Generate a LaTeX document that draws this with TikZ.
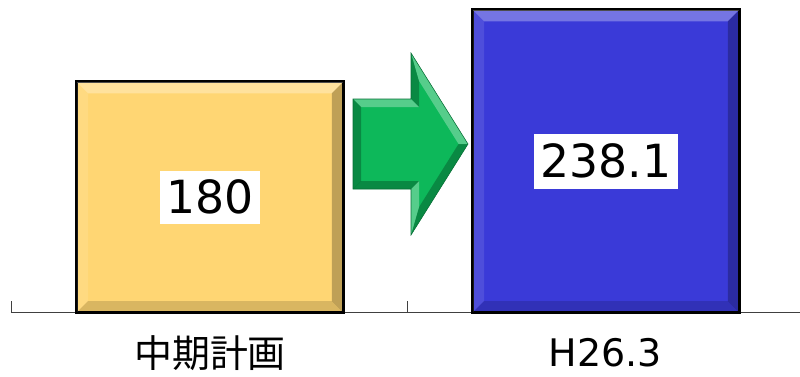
\documentclass[tikz,border=0pt]{standalone}
\usepackage{fontspec}
\newfontfamily\jpfont{Noto Sans CJK JP}
\newfontfamily\numfont{DejaVu Sans}
\definecolor{barplan}{HTML}{FFD673}
\definecolor{baractual}{HTML}{3A3AD8}
\definecolor{arrowgreen}{HTML}{0DB85A}
\begin{document}
\begin{tikzpicture}[font=\jpfont,
	bar/.style={rectangle,draw=black,line width=1.2pt,inner sep=0pt,minimum width=6.65cm},
	value/.style={fill=white,inner sep=0pt,font=\numfont\fontsize{32.5}{36}\selectfont},
	category/.style={inner sep=0pt,font=\jpfont\fontsize{27}{30}\selectfont},
	axis/.style={draw=black!75,line width=0.6pt},
	lite/.style={fill=white,fill opacity=0.3},
	dark/.style={fill=black,fill opacity=0.25}]

  \useasboundingbox (0,0) rectangle (20,9.4);

  % axis
  \coordinate (ax0) at (0.275,1.6);
  \coordinate (ax1) at (10.175,1.6);
  \coordinate (ax2) at (20,1.6);
  \draw[axis] (ax0) -- (ax2);
  \draw[axis] (ax0) -- ++(0,0.275);
  \draw[axis] (ax1) -- ++(0,0.275);

  \node [bar, fill=barplan, minimum height=5.75cm, anchor=south] (plan) at (5.25,1.575) {};
  \node [bar, fill=baractual, minimum height=7.55cm, anchor=south] (actual) at (15.15,1.575) {};

  % bevel of the bars
  \foreach \b in {plan,actual}{
	  \fill[lite] (\b.north west) -- (\b.north east) -- ([shift={(-0.3,-0.3)}]\b.north east) -- ([shift={(0.3,-0.3)}]\b.north west) -- cycle;
	  \fill[white,fill opacity=0.1] (\b.north west) -- ([shift={(0.3,-0.3)}]\b.north west) -- ([shift={(0.3,0.3)}]\b.south west) -- (\b.south west) -- cycle;
	  \fill[dark] (\b.north east) -- (\b.south east) -- ([shift={(-0.3,0.3)}]\b.south east) -- ([shift={(-0.3,-0.3)}]\b.north east) -- cycle;
	  \fill[black,fill opacity=0.15] (\b.south west) -- (\b.south east) -- ([shift={(-0.3,0.3)}]\b.south east) -- ([shift={(0.3,0.3)}]\b.south west) -- cycle;
	  \draw[black,line width=1.2pt] (\b.north west) rectangle (\b.south east);
  }

  \node [value, minimum width=2.5cm, minimum height=1.325cm] (planval) at (plan.center) {180};
  \node [value, minimum width=3.6cm, minimum height=1.375cm] (actualval) at (actual.center) {238.1};

  \node [category] (planlabel) at (5.25,0.575) {中期計画};
  \node [category, font=\numfont\fontsize{27}{30}\selectfont] (actuallabel) at (15.125,0.575) {H26.3};

  % arrow
  \coordinate (a) at (8.825,6.925);   \coordinate (ai) at (9.025,6.725);
  \coordinate (b) at (10.275,6.925);  \coordinate (bi) at (10.475,6.725);
  \coordinate (c) at (10.275,8.075);  \coordinate (ci) at (10.475,7.378);
  \coordinate (d) at (11.7,5.8);      \coordinate (di) at (11.464,5.8);
  \coordinate (e) at (10.275,3.525);  \coordinate (ei) at (10.475,4.222);
  \coordinate (f) at (10.275,4.675);  \coordinate (fi) at (10.475,4.875);
  \coordinate (g) at (8.825,4.675);   \coordinate (gi) at (9.025,4.875);
  \fill[arrowgreen] (a) -- (b) -- (c) -- (d) -- (e) -- (f) -- (g) -- cycle;
  \foreach \p/\q/\s in {a/b/lite,b/c/dark,c/d/lite,d/e/dark,e/f/lite,f/g/dark,g/a/dark}{
	  \fill[\s] (\p) -- (\q) -- (\q i) -- (\p i) -- cycle;
  }
  \draw[arrowgreen!60!black,line width=0.4pt] (a) -- (b) -- (c) -- (d) -- (e) -- (f) -- (g) -- cycle;

\end{tikzpicture}
\end{document}
